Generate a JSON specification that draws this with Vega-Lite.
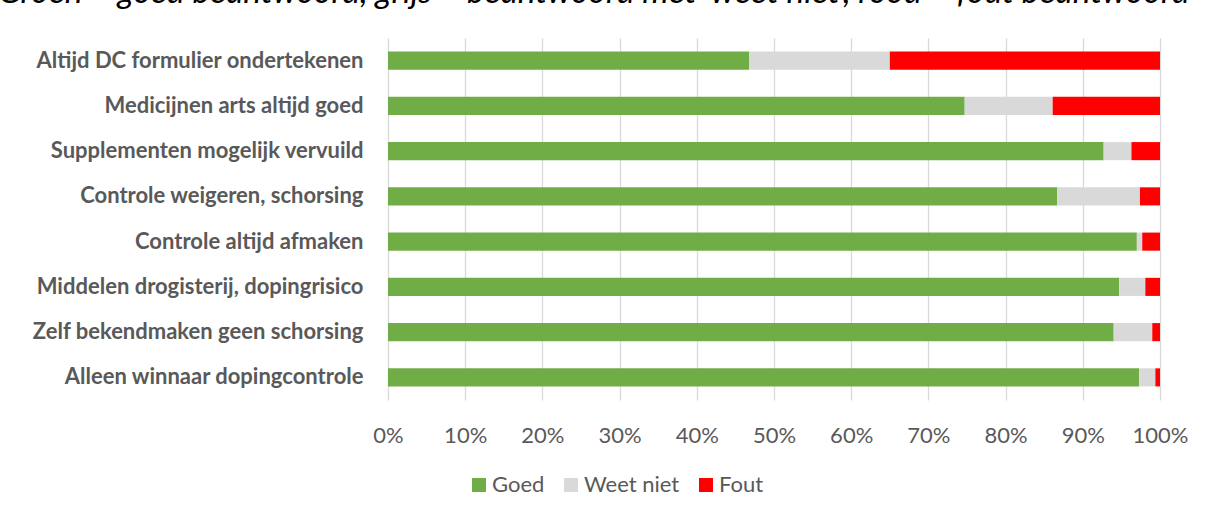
{
  "$schema": "https://vega.github.io/schema/vega-lite/v6.json",
  "autosize": {"type": "none"},
  "width": 772,
  "height": 362,
  "padding": {"left": 388, "top": 38, "right": 49, "bottom": 116},
  "background": "white",
  "title": {
    "text": "Groen = goed beantwoord, grijs = beantwoord met 'weet niet', rood = fout beantwoord",
    "anchor": "start",
    "frame": "group",
    "font": "Lato",
    "fontStyle": "italic",
    "fontWeight": "normal",
    "fontSize": 33.5,
    "color": "#000000",
    "dx": -390,
    "offset": 12,
    "dy": -16
  },
  "data": {
    "values": [
      {"vraag": "Altijd DC formulier ondertekenen", "antwoord": "Goed", "pct": 46.8},
      {"vraag": "Altijd DC formulier ondertekenen", "antwoord": "Weet niet", "pct": 18.2},
      {"vraag": "Altijd DC formulier ondertekenen", "antwoord": "Fout", "pct": 35.0},
      {"vraag": "Medicijnen arts altijd goed", "antwoord": "Goed", "pct": 74.7},
      {"vraag": "Medicijnen arts altijd goed", "antwoord": "Weet niet", "pct": 11.4},
      {"vraag": "Medicijnen arts altijd goed", "antwoord": "Fout", "pct": 13.9},
      {"vraag": "Supplementen mogelijk vervuild", "antwoord": "Goed", "pct": 92.7},
      {"vraag": "Supplementen mogelijk vervuild", "antwoord": "Weet niet", "pct": 3.6},
      {"vraag": "Supplementen mogelijk vervuild", "antwoord": "Fout", "pct": 3.7},
      {"vraag": "Controle weigeren, schorsing", "antwoord": "Goed", "pct": 86.7},
      {"vraag": "Controle weigeren, schorsing", "antwoord": "Weet niet", "pct": 10.7},
      {"vraag": "Controle weigeren, schorsing", "antwoord": "Fout", "pct": 2.6},
      {"vraag": "Controle altijd afmaken", "antwoord": "Goed", "pct": 97.0},
      {"vraag": "Controle altijd afmaken", "antwoord": "Weet niet", "pct": 0.7},
      {"vraag": "Controle altijd afmaken", "antwoord": "Fout", "pct": 2.3},
      {"vraag": "Middelen drogisterij, dopingrisico", "antwoord": "Goed", "pct": 94.7},
      {"vraag": "Middelen drogisterij, dopingrisico", "antwoord": "Weet niet", "pct": 3.4},
      {"vraag": "Middelen drogisterij, dopingrisico", "antwoord": "Fout", "pct": 1.9},
      {"vraag": "Zelf bekendmaken geen schorsing", "antwoord": "Goed", "pct": 94.0},
      {"vraag": "Zelf bekendmaken geen schorsing", "antwoord": "Weet niet", "pct": 5.0},
      {"vraag": "Zelf bekendmaken geen schorsing", "antwoord": "Fout", "pct": 1.0},
      {"vraag": "Alleen winnaar dopingcontrole", "antwoord": "Goed", "pct": 97.3},
      {"vraag": "Alleen winnaar dopingcontrole", "antwoord": "Weet niet", "pct": 2.1},
      {"vraag": "Alleen winnaar dopingcontrole", "antwoord": "Fout", "pct": 0.6}
    ]
  },
  "transform": [
    {"calculate": "indexof(['Goed', 'Weet niet', 'Fout'], datum.antwoord)", "as": "volgorde"}
  ],
  "mark": {"type": "bar"},
  "encoding": {
    "y": {
      "field": "vraag",
      "type": "nominal",
      "sort": null,
      "scale": {"paddingInner": 0.6, "paddingOuter": 0.3},
      "axis": {
        "title": null,
        "ticks": false,
        "domain": false,
        "labelFont": "Lato",
        "labelFontWeight": "bold",
        "labelFontSize": 22,
        "labelColor": "#595959",
        "labelPadding": 25,
        "labelLimit": 400
      }
    },
    "x": {
      "field": "pct",
      "type": "quantitative",
      "stack": "zero",
      "scale": {"domain": [0, 100], "nice": false},
      "axis": {
        "title": null,
        "values": [0, 10, 20, 30, 40, 50, 60, 70, 80, 90, 100],
        "labelExpr": "datum.value + '%'",
        "labelFlush": false,
        "labelBound": false,
        "labelOverlap": false,
        "ticks": false,
        "domain": false,
        "grid": true,
        "gridColor": "#d9d9d9",
        "gridWidth": 1.3,
        "labelFont": "Lato",
        "labelFontSize": 22,
        "labelColor": "#595959",
        "labelPadding": 25
      }
    },
    "order": {"field": "volgorde", "type": "quantitative"},
    "color": {
      "field": "antwoord",
      "type": "nominal",
      "sort": ["Goed", "Weet niet", "Fout"],
      "scale": {"domain": ["Goed", "Weet niet", "Fout"], "range": ["#70AD47", "#D9D9D9", "#FF0000"]},
      "legend": {
        "title": null,
        "orient": "none",
        "direction": "horizontal",
        "legendX": 80,
        "legendY": 436,
        "symbolType": "square",
        "symbolSize": 196,
        "symbolStrokeWidth": 0,
        "labelFont": "Lato",
        "labelFontSize": 22,
        "labelColor": "#595959",
        "labelOffset": 2,
        "columnPadding": 15
      }
    }
  },
  "config": {"view": {"stroke": null}}
}
